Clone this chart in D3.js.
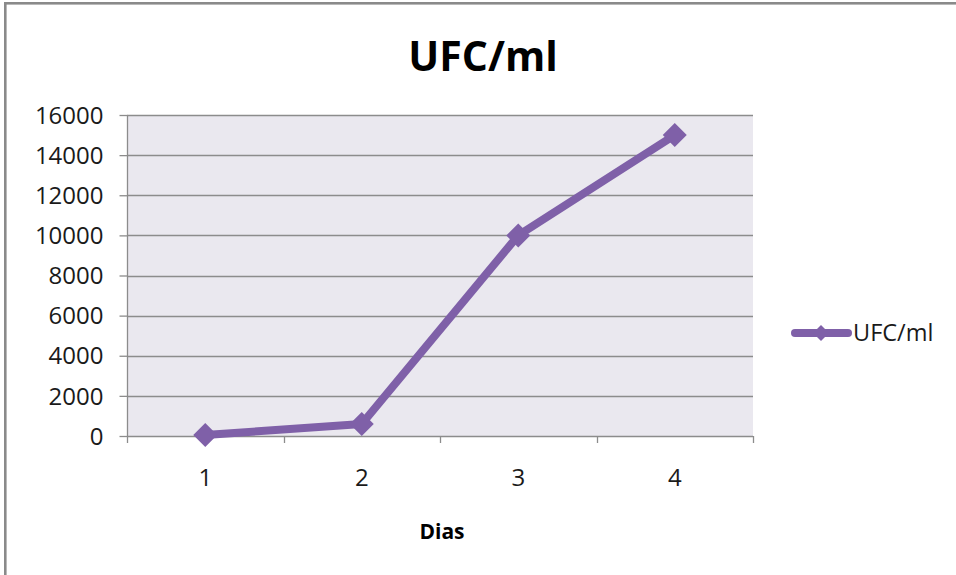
<!DOCTYPE html>
<html><head><meta charset="utf-8">
<script src="https://cdn.jsdelivr.net/npm/d3@7"></script>
<style>html,body{margin:0;padding:0;background:#fff;overflow:hidden}</style>
</head><body>
<svg id="c" width="956" height="575"></svg>
<script>
const categories = ["1", "2", "3", "4"];
const values = [50, 600, 10000, 15000];
const yTicks = [0, 2000, 4000, 6000, 8000, 10000, 12000, 14000, 16000];
const seriesName = "UFC/ml";
const title = "UFC/ml";
const xTitle = "Dias";

(function () {
const svg = d3.select("#c");
const font = "'Open Sans', sans-serif";
const pL = 127, pR = 753, pT = 115, pB = 436;
const purple = "#7f60a8";

// outer frame
svg.append("rect").attr("x", 5.3).attr("y", 3.3).attr("width", 1200).attr("height", 1200)
  .attr("fill", "none").attr("stroke", "#8a8a8a").attr("stroke-width", 2.6);

const x = d3.scaleBand().domain(categories).range([pL, pR]).padding(0);
const y = d3.scaleLinear().domain([0, 16000]).range([pB, pT]);

svg.append("rect").attr("x", pL).attr("y", pT).attr("width", pR - pL).attr("height", pB - pT)
  .attr("fill", "#eae8ef");

// gridlines
svg.append("g").selectAll("line").data(yTicks.filter(d => d > 0)).join("line")
  .attr("x1", pL).attr("x2", pR).attr("y1", d => Math.round(y(d)) + 0.5).attr("y2", d => Math.round(y(d)) + 0.5)
  .attr("stroke", "#8c8c8c").attr("stroke-width", 1.3);

// y axis
const ya = svg.append("g").attr("transform", `translate(${pL + 0.5},0)`)
  .call(d3.axisLeft(y).tickValues(yTicks).tickSize(8).tickPadding(16).tickFormat(d3.format("d")));
ya.select(".domain").attr("stroke", "#8c8c8c").attr("stroke-width", 1.3).attr("d", `M0,${pT}V${pB}`);
ya.selectAll(".tick line").attr("stroke", "#8c8c8c").attr("stroke-width", 1.3);
ya.selectAll(".tick text").attr("font-family", font).attr("font-size", 24).attr("fill", "#1a1a1a").attr("dy", "0.34em");

// x axis
const boundaries = categories.map(c => x(c)).concat([pR]);
const xg = svg.append("g");
xg.append("line").attr("x1", pL).attr("x2", pR).attr("y1", pB + 0.5).attr("y2", pB + 0.5)
  .attr("stroke", "#8c8c8c").attr("stroke-width", 1.3);
xg.selectAll("line.t").data(boundaries).join("line").attr("class", "t")
  .attr("x1", d => Math.round(d) + 0.5).attr("x2", d => Math.round(d) + 0.5)
  .attr("y1", pB).attr("y2", pB + 7).attr("stroke", "#8c8c8c").attr("stroke-width", 1.3);
xg.selectAll("text").data(categories).join("text")
  .attr("x", d => x(d) + x.bandwidth() / 2).attr("y", 478).attr("dy", "0.35em")
  .attr("text-anchor", "middle").attr("font-family", font).attr("font-size", 24).attr("fill", "#1a1a1a").text(d => d);

// line
const pts = categories.map((c, i) => [x(c) + x.bandwidth() / 2, y(values[i])]);
svg.append("path").attr("d", d3.line()(pts)).attr("fill", "none").attr("stroke", purple)
  .attr("stroke-width", 8).attr("stroke-linejoin", "round");
const diamond = (cx, cy, r) => `M${cx},${cy - r}L${cx + r},${cy}L${cx},${cy + r}L${cx - r},${cy}Z`;
svg.append("g").selectAll("path").data(pts).join("path")
  .attr("d", d => diamond(d[0], d[1], 12)).attr("fill", purple);

// title
svg.append("text").attr("x", 483).attr("y", 57).attr("dy", "0.35em").attr("text-anchor", "middle")
  .attr("font-family", font).attr("font-weight", "bold").attr("font-size", 41).attr("fill", "#000").text(title);
svg.append("text").attr("x", 442).attr("y", 532).attr("dy", "0.35em").attr("text-anchor", "middle")
  .attr("font-family", font).attr("font-weight", "bold").attr("font-size", 21).attr("fill", "#000").text(xTitle);

// legend
const lg = svg.append("g");
lg.append("line").attr("x1", 795).attr("x2", 848).attr("y1", 333).attr("y2", 333)
  .attr("stroke", purple).attr("stroke-width", 8).attr("stroke-linecap", "round");
lg.append("path").attr("d", diamond(821, 333, 8)).attr("fill", purple);
lg.append("text").attr("x", 853).attr("y", 333).attr("dy", "0.35em").attr("font-family", font)
  .attr("font-size", 23.5).attr("fill", "#1a1a1a").text(seriesName);
})();
</script>
</body></html>
